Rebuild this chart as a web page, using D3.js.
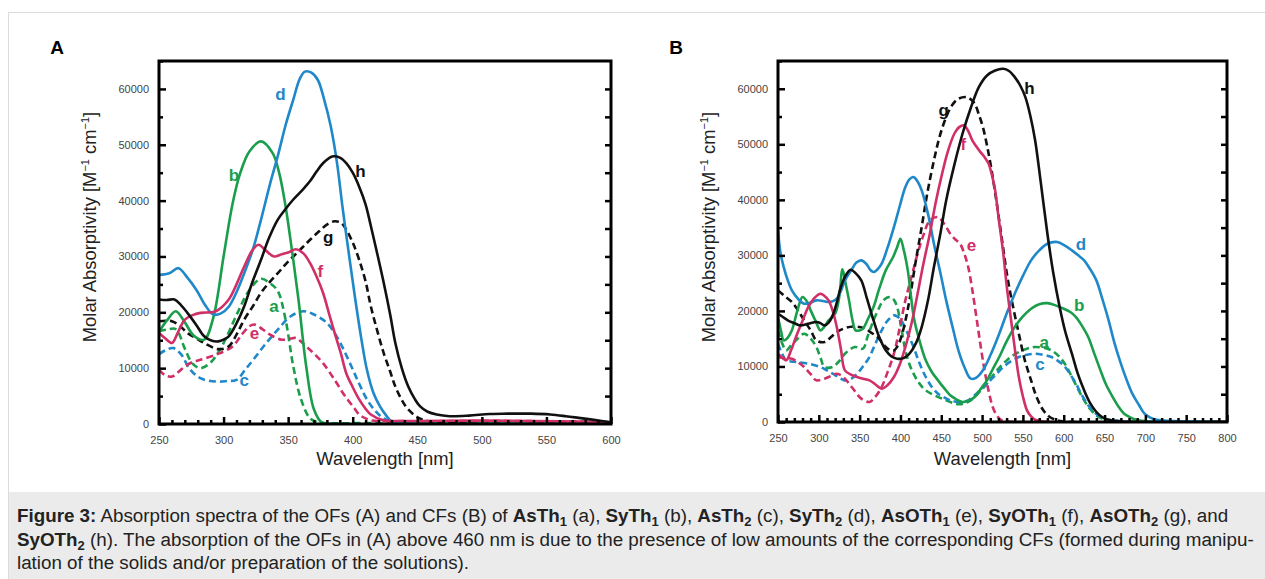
<!DOCTYPE html>
<html lang="en">
<head>
  <meta charset="UTF-8">
  <title>Figure 3 - Absorption spectra</title>
  <script src="https://d3js.org/d3.v7.min.js"></script>
  <style>
    body {
      margin: 0;
      background: #fff;
      font-family: "Liberation Sans", Arial, sans-serif;
    }
    #wrap {
      position: relative;
      width: 1265px;
      height: 579px;
      overflow: hidden;
    }
    #frame {
      position: absolute;
      left: 8px;
      top: 12px;
      width: 1270px;
      height: 600px;
      border-left: 1px solid #dcdcdc;
      border-top: 1px solid #dcdcdc;
    }
    #chart {
      position: absolute;
      left: 0;
      top: 0;
    }
    #caption {
      position: absolute;
      left: 9px;
      top: 492px;
      width: 1256px;
      height: 87px;
      background: #ebebeb;
      box-sizing: border-box;
      padding: 12px 0 0 8px;
      font-size: 18.8px;
      line-height: 23.5px;
      color: #222;
      white-space: nowrap;
    }
    #caption sub {
      font-size: 13px;
      vertical-align: -4px;
      line-height: 0;
    }
    .tick text {
      font-size: 11px;
      fill: #444;
    }
    .lbl {
      font-size: 17px;
      font-weight: bold;
    }
  </style>
</head>
<body>
<div id="wrap">
  <div id="frame"></div>
  <svg id="chart" width="1265" height="579"></svg>
  <div id="caption">
    <b>Figure 3:</b> Absorption spectra of the OFs (A) and CFs (B) of <b>AsTh<sub>1</sub></b> (a), <b>SyTh<sub>1</sub></b> (b), <b>AsTh<sub>2</sub></b> (c), <b>SyTh<sub>2</sub></b> (d), <b>AsOTh<sub>1</sub></b> (e), <b>SyOTh<sub>1</sub></b> (f), <b>AsOTh<sub>2</sub></b> (g), and<br>
    <b>SyOTh<sub>2</sub></b> (h). The absorption of the OFs in (A) above 460 nm is due to the presence of low amounts of the corresponding CFs (formed during manipu-<br>
    lation of the solids and/or preparation of the solutions).
  </div>
</div>

<script>
  // ---- Panel A (open forms): [wavelength nm, molar absorptivity]
  const aA = [[250,16600],[256,16900],[263,17000],[270,13500],[276,10800],[282,10000],[290,11000],[300,14500],[310,19500],[320,24000],[329,26000],[336,25200],[342,23800],[348,18700],[354,10300],[360,4400],[367,1000],[373,300],[380,150],[400,150],[450,200],[500,250],[550,200],[580,100],[600,0]];
  const bA = [[250,16500],[256,18500],[263,20200],[270,18200],[277,15800],[285,15100],[292,19000],[300,30000],[307,39500],[313,45000],[320,48800],[329,50600],[338,48500],[343,45000],[348,39000],[353,31000],[358,22300],[364,10300],[370,2600],[376,300],[385,0],[600,0]];
  const cA = [[250,12500],[255,13200],[261,13600],[267,12500],[274,9800],[282,8200],[294,7600],[303,7700],[310,7900],[317,9800],[323,11500],[332,14200],[342,16900],[352,19300],[362,20200],[370,19600],[380,18100],[389,15100],[399,10300],[405,7200],[411,4400],[418,2200],[424,1000],[433,200],[445,100],[600,0]];
  const dA = [[250,26700],[258,27000],[265,27900],[272,26200],[279,24000],[286,21200],[292,19600],[298,19800],[304,21000],[310,23600],[316,27000],[323,31500],[329,36600],[336,43000],[342,48000],[348,53500],[354,58100],[359,61800],[363,63100],[368,62900],[373,61600],[378,58000],[383,53300],[388,46500],[392,39000],[397,30500],[402,22300],[407,14800],[411,9700],[416,5600],[421,3200],[426,1500],[430,500],[440,100],[600,0]];
  const eA = [[250,9700],[255,8700],[260,8500],[265,9300],[270,10300],[276,11100],[282,11500],[294,12400],[307,13900],[314,16000],[320,17500],[324,17800],[330,17000],[336,16000],[345,15100],[352,15300],[356,15400],[364,13900],[370,12600],[377,10900],[386,7900],[392,5700],[396,4400],[401,2900],[405,1700],[410,1000],[414,650],[425,500],[460,500],[520,550],[560,450],[600,300]];
  const fA = [[250,16300],[255,15300],[260,14500],[265,16600],[270,18700],[276,19500],[282,19900],[294,20200],[304,22300],[310,25000],[316,28200],[322,31000],[327,32100],[333,31000],[339,30000],[345,30400],[351,30800],[356,31300],[362,30500],[367,28800],[372,26400],[377,23500],[382,19500],[386,16300],[391,12500],[395,9100],[400,6600],[405,4400],[410,2700],[414,1700],[424,650],[440,550],[500,600],[560,500],[600,300]];
  const gA = [[250,18400],[255,18500],[260,18400],[266,17600],[272,16300],[279,15300],[285,14500],[296,13400],[304,13900],[310,16000],[316,18700],[323,21200],[329,23500],[336,25500],[342,27000],[348,28600],[354,30000],[361,31600],[367,33000],[374,34500],[380,35700],[386,36300],[391,36000],[395,34800],[400,32500],[405,29400],[410,25500],[414,21100],[419,16700],[424,12700],[429,9400],[433,6700],[438,4300],[443,2600],[451,1100],[459,500],[500,500],[560,450],[600,300]];
  const hA = [[250,22300],[256,22200],[262,22300],[267,21300],[272,19900],[279,17700],[285,15700],[291,14900],[296,14800],[300,15100],[304,15700],[310,18000],[316,21100],[322,25200],[329,29400],[335,33200],[342,36600],[348,38500],[354,40200],[361,41900],[367,43500],[372,45200],[377,46700],[384,47900],[390,47700],[395,46700],[400,45000],[405,42500],[410,39300],[414,35500],[419,30500],[424,25300],[429,19600],[433,14500],[438,10000],[443,6700],[448,4500],[452,3200],[458,2200],[465,1700],[475,1400],[490,1500],[506,1800],[520,1850],[538,1850],[553,1700],[565,1400],[575,1100],[588,700],[600,300]];

  // ---- Panel B (closed forms)
  const aB = [[250,16500],[255,14200],[260,12900],[266,13800],[272,14700],[282,15900],[290,15000],[297,13500],[302,11600],[307,9900],[317,9900],[324,10800],[332,12300],[344,13500],[354,13200],[360,15500],[367,18300],[373,20300],[379,21900],[387,22500],[392,22000],[396,20700],[401,17000],[406,12900],[411,10400],[416,8700],[423,7000],[431,5700],[451,4200],[471,3200],[479,3400],[486,3900],[496,5300],[506,6900],[516,8900],[526,10500],[535,11700],[545,12600],[555,13200],[565,13500],[580,13200],[588,12600],[595,11700],[603,10100],[610,8100],[618,5800],[625,3900],[632,2400],[640,1200],[647,600],[655,300],[670,100],[800,0]];
  const bB = [[250,18900],[254,16200],[257,14700],[262,15200],[267,16500],[274,20200],[280,22500],[285,21800],[290,20100],[296,18200],[302,16500],[307,17200],[312,18300],[320,19500],[325,22500],[329,27500],[333,24800],[337,21900],[341,18500],[345,16500],[350,16500],[354,16800],[360,18500],[367,20700],[374,24000],[382,27300],[391,29700],[396,31500],[400,33000],[404,31000],[409,27300],[413,22500],[417,18300],[424,14300],[431,11100],[438,9100],[446,7500],[454,6000],[461,4800],[468,4100],[476,3600],[483,3800],[491,4500],[498,5900],[506,7500],[513,9500],[521,11700],[530,14500],[540,17100],[550,19000],[560,20400],[570,21200],[580,21400],[590,21000],[600,20400],[608,19800],[615,18900],[622,17400],[630,15300],[637,12500],[645,9300],[652,6700],[660,4500],[667,2800],[674,1500],[682,800],[689,400],[704,100],[800,0]];
  const cB = [[250,14100],[255,12300],[260,11100],[266,10900],[272,10800],[287,10500],[302,9900],[310,9300],[317,8700],[325,8000],[332,7500],[340,7800],[347,8700],[354,10000],[362,11700],[369,14000],[377,16500],[384,18200],[392,19200],[396,19000],[401,18300],[408,16200],[416,13500],[423,10700],[431,8100],[438,6400],[446,5100],[454,4400],[461,3900],[476,3600],[484,4000],[491,4800],[498,5800],[506,6900],[516,8400],[526,9900],[535,10900],[545,11700],[555,12100],[565,12300],[575,12100],[585,11700],[593,11000],[600,10200],[607,8800],[615,6900],[622,4900],[630,3000],[637,1800],[645,900],[652,500],[660,300],[675,100],[800,0]];
  const dB = [[250,34500],[253,30500],[257,27900],[262,25500],[267,23700],[275,22100],[282,21300],[290,21500],[297,21900],[305,21800],[312,21600],[318,21800],[322,22200],[327,23600],[332,25500],[340,27400],[346,28700],[352,29100],[358,28500],[363,27400],[367,27000],[372,27500],[377,28500],[384,31300],[392,35100],[399,38800],[406,42300],[411,43700],[416,44100],[421,43300],[426,41700],[434,37300],[441,32100],[449,26800],[456,21900],[464,17000],[471,12900],[478,10000],[486,7800],[493,8000],[501,9300],[511,12300],[521,15900],[530,19500],[540,23100],[550,26300],[560,29100],[570,30900],[580,32100],[592,32400],[601,31800],[610,30900],[617,30100],[625,29100],[632,27600],[640,25500],[647,22300],[655,18300],[662,14300],[670,10500],[677,7600],[684,5100],[692,3100],[699,1500],[706,800],[714,400],[729,200],[800,0]];
  const eB = [[250,11700],[258,11500],[267,11400],[275,10700],[282,9900],[290,8600],[297,7500],[307,7800],[315,8300],[322,8700],[330,8100],[337,6900],[345,5400],[352,4200],[362,3600],[369,4500],[377,6300],[384,8900],[392,12300],[399,16900],[406,21900],[414,26400],[421,30300],[428,33600],[436,36300],[446,36900],[453,35800],[461,33900],[467,32900],[473,32100],[478,30400],[483,27900],[488,23800],[493,18900],[498,13900],[503,9300],[508,5600],[513,2700],[518,1200],[523,400],[533,100],[800,0]];
  const fB = [[250,12300],[255,11600],[260,11100],[266,12900],[272,15300],[280,18200],[287,20700],[295,22400],[302,23100],[307,22700],[312,21900],[317,20000],[322,17100],[327,13200],[332,9300],[340,8500],[347,8100],[354,7800],[362,7500],[369,6800],[377,6000],[384,6600],[392,8100],[399,10300],[406,13500],[414,18000],[421,23100],[428,28400],[436,33900],[443,39400],[451,44700],[458,48700],[466,51900],[472,53100],[478,53400],[483,52400],[488,50700],[493,49600],[498,48600],[503,47700],[508,46500],[512,44500],[516,41700],[520,37000],[526,30300],[530,24700],[535,18900],[540,13300],[545,8100],[550,4600],[555,2100],[560,1000],[565,400],[575,100],[800,0]];
  const gB = [[250,23700],[258,22700],[267,21600],[275,20000],[282,18300],[290,16500],[297,14700],[307,14400],[315,15300],[322,16200],[332,16900],[342,17200],[350,17100],[357,16800],[364,16100],[372,15300],[377,14400],[382,13500],[387,13000],[392,12900],[397,13800],[401,15300],[406,18200],[411,21900],[418,28300],[426,35100],[433,41300],[441,47100],[448,51400],[456,54900],[463,57000],[471,58200],[481,58500],[486,58100],[491,57300],[496,55400],[501,53100],[506,49800],[511,45900],[516,41300],[521,36300],[526,31100],[531,26100],[538,20700],[545,15900],[552,11300],[560,7500],[567,4400],[575,2100],[582,1000],[590,400],[600,100],[800,0]];
  const hB = [[250,19500],[256,18900],[262,18300],[270,17800],[277,17400],[287,17700],[297,18000],[302,17800],[307,17400],[312,17900],[317,19200],[322,21500],[327,24300],[333,26400],[339,27400],[345,26800],[352,25500],[359,22200],[367,18300],[374,15300],[382,12900],[389,11800],[396,11400],[404,11500],[411,12300],[419,14200],[426,17100],[434,22100],[441,27900],[449,34000],[456,39900],[466,46300],[476,51900],[486,56500],[496,60300],[506,62400],[516,63300],[526,63600],[533,63200],[540,62100],[547,60500],[553,58500],[559,55200],[565,50700],[572,43000],[580,33900],[587,27000],[595,20700],[602,16200],[610,12300],[617,8800],[625,5700],[632,3500],[640,1800],[647,900],[655,400],[670,100],[800,0]];

  const seriesKeys = ["a", "b", "c", "d", "e", "f", "g", "h"];
  const seriesA = [aA, bA, cA, dA, eA, fA, gA, hA];
  const seriesB = [aB, bB, cB, dB, eB, fB, gB, hB];

  // label anchor positions in data units [nm, value]
  const labelsA = [[339,21100],[308,44600],[316,7900],[344,59100],[324,16300],[375,27300],[381,33500],[406,45300]];
  const labelsB = [[576,14400],[619,21000],[571,10500],[621,32100],[487,31900],[477,50100],[453,56200],[558,60200]];

  const colors = {a:"#1a9e4b", b:"#1a9e4b", c:"#1f88c9", d:"#1f88c9", e:"#d02f67", f:"#d02f67", g:"#111", h:"#111"};
  const dashed = {a:true, b:false, c:true, d:false, e:true, f:false, g:true, h:false};

  const svg = d3.select("#chart");

  const panels = [
    {name: "A", series: seriesA, labels: labelsA, xMax: 600, left: 159, right: 611, top: 61, bottom: 424, tag: [57, 47]},
    {name: "B", series: seriesB, labels: labelsB, xMax: 800, left: 778, right: 1227, top: 61, bottom: 422, tag: [676, 47]}
  ];

  panels.forEach(p => {
    const x = d3.scaleLinear().domain([250, p.xMax]).range([p.left, p.right]);
    const y = d3.scaleLinear().domain([0, 65000]).range([p.bottom, p.top]);
    const g = svg.append("g");

    g.append("clipPath").attr("id", "clip" + p.name)
      .append("rect")
      .attr("x", p.left).attr("y", p.top)
      .attr("width", p.right - p.left).attr("height", p.bottom - p.top);

    const line = d3.line()
      .x(d => x(d[0]))
      .y(d => y(d[1]))
      .curve(d3.curveCatmullRom.alpha(0.5));

    // dashed curves underneath solid ones
    const order = [0, 2, 4, 6, 1, 3, 5, 7];
    order.forEach(i => {
      const k = seriesKeys[i];
      g.append("path")
        .datum(p.series[i])
        .attr("clip-path", `url(#clip${p.name})`)
        .attr("fill", "none")
        .attr("stroke", colors[k])
        .attr("stroke-width", 2.6)
        .attr("stroke-dasharray", dashed[k] ? "7,4" : null)
        .attr("d", line);
    });

    // curve letters
    p.labels.forEach((l, i) => {
      const k = seriesKeys[i];
      g.append("text")
        .attr("class", "lbl")
        .attr("x", x(l[0]))
        .attr("y", y(l[1]))
        .attr("dy", "0.35em")
        .attr("text-anchor", "middle")
        .attr("fill", colors[k])
        .text(k);
    });

    // axes: ticks pointing inward
    const xAxis = d3.axisBottom(x).tickValues(d3.range(250, p.xMax + 1, 50))
      .tickSizeInner(-7).tickSizeOuter(0).tickPadding(12);
    g.append("g").attr("transform", `translate(0,${p.bottom})`).call(xAxis)
      .call(a => a.select(".domain").remove());
    g.append("g").attr("transform", `translate(0,${p.bottom})`)
      .call(d3.axisBottom(x).tickValues(d3.range(260, p.xMax, 10).filter(v => v % 50))
        .tickSizeInner(-4).tickSizeOuter(0).tickFormat(""))
      .call(a => a.select(".domain").remove());

    const yAxis = d3.axisLeft(y).tickValues(d3.range(0, 60001, 10000))
      .tickSizeInner(-7).tickSizeOuter(0).tickPadding(10).tickFormat(d3.format("d"));
    g.append("g").attr("transform", `translate(${p.left},0)`).call(yAxis)
      .call(a => a.select(".domain").remove());
    g.append("g").attr("transform", `translate(${p.left},0)`)
      .call(d3.axisLeft(y).tickValues(d3.range(5000, 65001, 10000)).tickSizeInner(-4).tickSizeOuter(0).tickFormat(""))
      .call(a => a.select(".domain").remove());
    g.append("g").attr("transform", `translate(${p.right},0)`)
      .call(d3.axisRight(y).tickValues(d3.range(5000, 60001, 5000)).tickSizeInner(-6).tickSizeOuter(0).tickFormat(""))
      .call(a => a.select(".domain").remove());

    g.selectAll(".tick line").attr("stroke", "#000").attr("stroke-width", 2.5);

    // frame
    g.append("rect")
      .attr("x", p.left).attr("y", p.top)
      .attr("width", p.right - p.left).attr("height", p.bottom - p.top)
      .attr("fill", "none").attr("stroke", "#000").attr("stroke-width", 3);

    // titles
    g.append("text")
      .attr("x", (p.left + p.right) / 2).attr("y", 465)
      .attr("text-anchor", "middle").attr("font-size", "18.4px").attr("fill", "#222")
      .text("Wavelength [nm]");

    const yt = g.append("text")
      .attr("transform", `translate(${p.left - 63},227) rotate(-90)`)
      .attr("text-anchor", "middle").attr("font-size", "18.4px").attr("fill", "#222");
    yt.append("tspan").text("Molar Absorptivity [M");
    yt.append("tspan").attr("font-size", "11px").attr("dy", -7).text("\u22121");
    yt.append("tspan").attr("dy", 7).text(" cm");
    yt.append("tspan").attr("font-size", "11px").attr("dy", -7).text("\u22121");
    yt.append("tspan").attr("dy", 7).text("]");

    g.append("text")
      .attr("x", p.tag[0]).attr("y", p.tag[1])
      .attr("dy", "0.35em").attr("text-anchor", "middle")
      .attr("font-size", "19px").attr("font-weight", "bold")
      .text(p.name);
  });
</script>
</body>
</html>
